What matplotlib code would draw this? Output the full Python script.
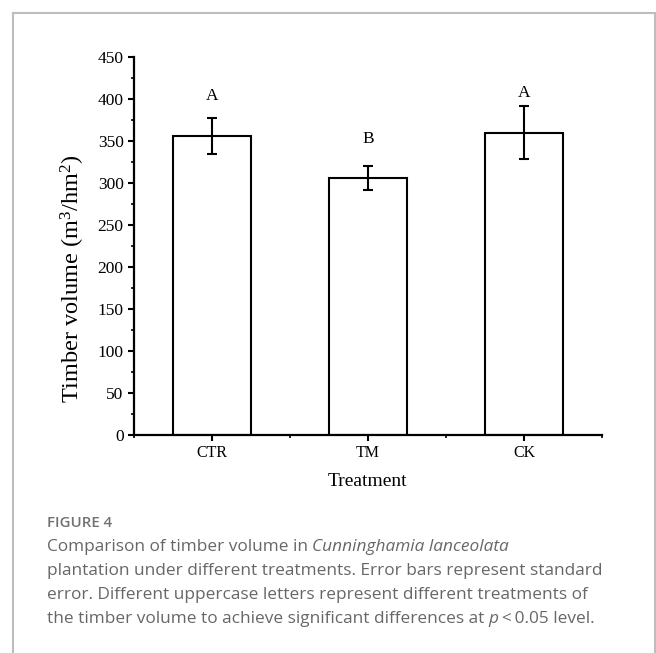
import matplotlib
matplotlib.use('Agg')
import matplotlib.pyplot as plt
from matplotlib.patches import Rectangle
from matplotlib.ticker import MultipleLocator, FixedLocator
import numpy as np

# 数据
categories = ['CTR', 'TM', 'CK']
volume = [356, 306, 360]
volume_se = [21.5, 14.5, 31.5]
letters = ['A', 'B', 'A']
letter_y = [403, 352, 407]

W, H = 656, 653
serif = 'Liberation Serif'
plt.rcParams['mathtext.fontset'] = 'custom'
plt.rcParams['mathtext.rm'] = serif
plt.rcParams['mathtext.it'] = serif + ':italic'

fig = plt.figure(figsize=(W / 100, H / 100), dpi=100)

# 外框
frame = Rectangle((13 / W, -0.1), (655 - 13) / W, 1.1 - 13 / H, transform=fig.transFigure,
                  fill=False, edgecolor='#bdbdbd', linewidth=1.5, clip_on=False)
fig.add_artist(frame)

ax = fig.add_axes([134 / W, 1 - 435 / H, (602 - 134) / W, (435 - 57) / H])

x = np.arange(1, len(categories) + 1)
ax.bar(x, volume, width=0.5, color='white', edgecolor='black', linewidth=1.5, zorder=2)
ax.errorbar(x, volume, yerr=volume_se, fmt='none', ecolor='black', elinewidth=1.5,
            capsize=3.5, capthick=1.5, zorder=3)
for xi, lab, ly in zip(x, letters, letter_y):
    ax.text(xi, ly, lab, ha='center', va='center', fontsize=12.5, family=serif)

ax.set_xlim(0.5, 3.5)
ax.set_ylim(0, 450)
ax.set_xticks(x)
ax.set_xticklabels(categories, fontsize=11.5, family=serif)
ax.xaxis.set_minor_locator(FixedLocator([0.5, 1.5, 2.5, 3.5]))
ax.yaxis.set_major_locator(MultipleLocator(50))
ax.yaxis.set_minor_locator(MultipleLocator(25))
for lab in ax.get_yticklabels():
    lab.set_family(serif)
    lab.set_fontsize(12.5)
ax.tick_params(which='major', direction='out', length=4.5, width=1.5, pad=3)
ax.tick_params(which='minor', direction='out', length=2.5, width=1.2)
ax.spines['top'].set_visible(False)
ax.spines['right'].set_visible(False)
ax.spines['left'].set_linewidth(1.6)
ax.spines['bottom'].set_linewidth(1.6)

ax.set_xlabel('Treatment', fontsize=14, family=serif, labelpad=8)
ax.set_ylabel('Timber volume (m$^3$/hm$^2$)', fontsize=17.5, family=serif)
ax.yaxis.set_label_coords(-0.1, 0.413)

# 图注
cap = fig.add_axes([0, 0, 1, 1])
cap.set_axis_off()
cap.set_xlim(0, W)
cap.set_ylim(H, 0)
gray = '#666769'
sans = 'Open Sans'
fs = 12.45
cap.text(47, 523, 'FIGURE 4', fontsize=10.8, family=sans, weight='semibold', color='#707173', va='center')
t = cap.text(47, 547, 'Comparison of timber volume in ', fontsize=fs, family=sans, color=gray, va='center')
cap.annotate('Cunninghamia lanceolata', xy=(1, 0), xycoords=t, va='bottom', fontsize=fs,
             family=sans, style='italic', color=gray)
cap.text(47, 571, 'plantation under different treatments. Error bars represent standard',
         fontsize=fs, family=sans, color=gray, va='center')
cap.text(47, 595, 'error. Different uppercase letters represent different treatments of',
         fontsize=fs, family=sans, color=gray, va='center')
t = cap.text(47, 619, 'the timber volume to achieve significant differences at ', fontsize=fs,
             family=sans, color=gray, va='center')
t2 = cap.annotate('p', xy=(1, 0), xycoords=t, va='bottom', fontsize=fs, family=sans,
                  style='italic', color=gray)
cap.annotate('\u2009<\u20090.05 level.', xy=(1, 0), xycoords=t2, va='bottom', fontsize=fs,
             family=sans, color=gray)

fig.savefig('out.png', dpi=100)
